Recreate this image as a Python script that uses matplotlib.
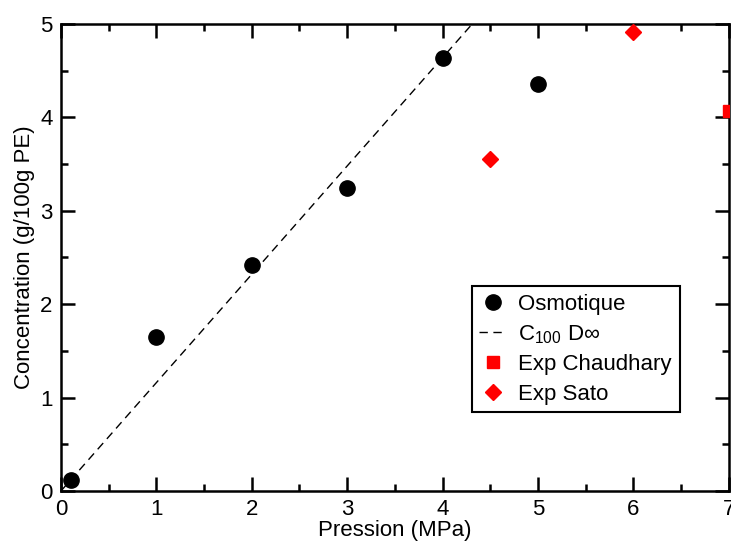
import numpy as np
import matplotlib
matplotlib.use("Agg")
import matplotlib.pyplot as plt

plt.rcParams['font.family'] = ['Liberation Sans', 'DejaVu Sans']
plt.rcParams['mathtext.fontset'] = 'custom'
plt.rcParams['mathtext.rm'] = 'Liberation Sans'
plt.rcParams['mathtext.it'] = 'Liberation Sans'

# donnees
p_osmo = [0.1, 1, 2, 3, 4, 5]
c_osmo = [0.12, 1.65, 2.42, 3.24, 4.64, 4.36]
p_chaud = [7]
c_chaud = [4.07]
p_sato = [4.5, 6]
c_sato = [3.55, 4.91]
pente = 1.16  # droite C100 D-infini
p_ligne = [0, 5 / pente]

fig = plt.figure(figsize=(7.31, 5.43), dpi=100)
ax = fig.add_axes([0.0834, 0.0958, 0.9136, 0.86])

ax.plot(p_osmo, c_osmo, 'o', color='black', markersize=11, label='Osmotique', zorder=3)
ax.plot(p_ligne, pente * np.array(p_ligne), '--', color='black', lw=1.0,
        dashes=(6, 4), label=r'C$_{100}$ D$\infty$')
ax.plot(p_chaud, c_chaud, 's', color='red', markersize=9, label='Exp Chaudhary', zorder=3)
ax.plot(p_sato, c_sato, 'D', color='red', markersize=8.5, label='Exp Sato', zorder=3)

ax.set_xlim(0, 7)
ax.set_ylim(0, 5)
ax.set_xticks(range(0, 8))
ax.set_yticks(range(0, 6))
ax.set_xticks(np.arange(0, 7.01, 0.5), minor=True)
ax.set_yticks(np.arange(0, 5.01, 0.5), minor=True)
ax.tick_params(which='both', direction='in', top=True, right=True, width=1.8, labelsize=16)
ax.tick_params(which='major', length=10, pad=6)
ax.tick_params(which='minor', length=5)
for s in ax.spines.values():
    s.set_linewidth(1.8)

ax.set_xlabel('Pression (MPa)', fontsize=16, labelpad=0)
ax.set_ylabel('Concentration (g/100g PE)', fontsize=16, labelpad=4)

leg = ax.legend(loc='upper left', bbox_to_anchor=(0.615, 0.439), fontsize=16,
                frameon=True, fancybox=False, edgecolor='black', framealpha=1,
                handlelength=1.2, handletextpad=0.55, labelspacing=0.38,
                borderpad=0.35, borderaxespad=0)
leg.get_frame().set_linewidth(1.5)

fig.savefig('out.png', dpi=100)
